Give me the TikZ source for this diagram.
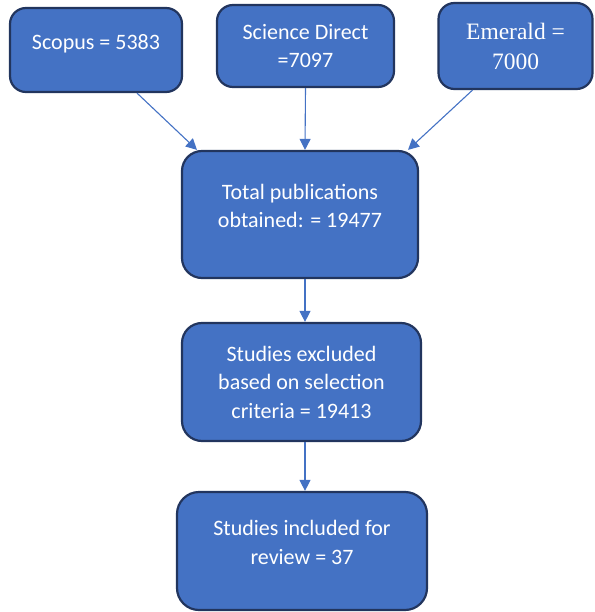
\documentclass[tikz,border=0pt]{standalone}
\usepackage{fontspec}
\setmainfont{Carlito}
\newfontfamily\timesfont{Liberation Serif}
\usetikzlibrary{arrows.meta, calc}

\definecolor{boxfill}{HTML}{4472C4}
\definecolor{boxline}{HTML}{22355E}
\definecolor{arrowcol}{HTML}{4472C4}

\tikzset{
  box/.style={draw=boxline, fill=boxfill, line width=2.2pt, rounded corners=16pt,
    text=white, align=center, inner sep=0pt,
    font=\fontsize{22}{28.5}\selectfont},
  lifted/.style={text depth=17pt},
  flow/.style={draw=arrowcol, line width=1.1pt, -{Triangle[length=11pt,width=11pt]}}
}

\begin{document}
\begin{tikzpicture}[x=1pt, y=-1pt]
\useasboundingbox (0,0) rectangle (594,612);

%Sources:
\node (SC) [box, lifted, minimum width=172pt, minimum height=84pt] at (96,50) {Scopus = 5383};
\node (SD) [box, minimum width=177pt, minimum height=82pt] at (305.5,46) {Science Direct\\=7097};
\node (EM) [box, minimum width=154pt, minimum height=86pt,
  font=\timesfont\fontsize{23.5}{30}\selectfont] at (515.5,46) {Emerald =\\7000};

%Flow:
\node (TP) [box, lifted, rounded corners=20pt, minimum width=236pt, minimum height=127pt] at (300,214.5) {Total publications\\obtained: = 19477};
\node (EX) [box, rounded corners=20pt, minimum width=239pt, minimum height=118pt] at (301.5,382) {Studies excluded\\based on selection\\criteria = 19413};
\node (IN) [box, lifted, rounded corners=22pt, minimum width=250pt, minimum height=118pt] at (302,551) {Studies included for\\review = 37};

\draw [flow] ($(SC.south)+(41,0)$) -- ($(TP.north)+(-103,0)$);
\draw [flow] ($(SD.south)+(0,0)$) -- ($(TP.north)+(5,0)$);
\draw [flow] ($(EM.south)+(-43,0)$) -- ($(TP.north)+(108,0)$);
\draw [flow] ($(TP.south)+(5,0)$) -- ($(EX.north)+(3.5,0)$);
\draw [flow] ($(EX.south)+(3.5,0)$) -- ($(IN.north)+(3,0)$);

\end{tikzpicture}
\end{document}
